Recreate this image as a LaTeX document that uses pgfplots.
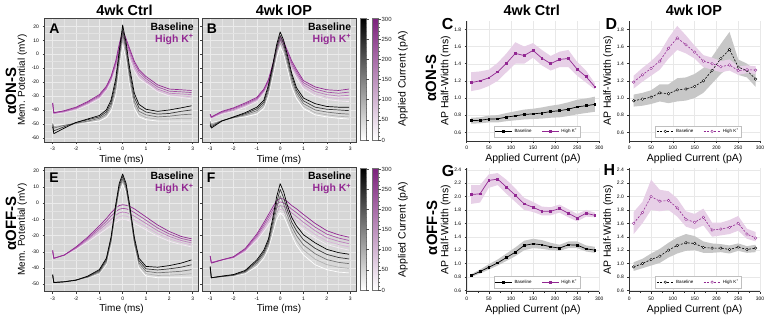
\documentclass[border=0pt]{standalone}
\usepackage{fontspec}
\setmainfont{Liberation Sans}
\usepackage{pgfplots}
\pgfplotsset{compat=1.18}
\usepackage{pgfplotstable}
\usepgfplotslibrary{fillbetween}
\definecolor{kpurple}{RGB}{146,40,146}

% ---------- traces: t, baseline b0(light)..b4(dark), high K k0..k4 ----------
\pgfplotstableread{
t b0 b1 b2 b3 b4 k0 k1 k2 k3 k4
-3 -49 -49.5 -50 -51 -52 -36 -35.5 -35.5 -35 -35
-2.95 -51 -52 -53 -55 -57 -43 -42.5 -42.5 -42 -42
-2.5 -50.5 -51 -51 -52 -53 -42 -41.6 -41.2 -40.8 -40.5
-2 -50 -50 -49.5 -49 -49 -40 -39.5 -39 -38.5 -38
-1.5 -49 -48.5 -48 -47 -46.5 -36.5 -35.8 -35.2 -34.6 -34
-1 -48 -47 -46 -45 -44 -32 -31.3 -30.6 -29.8 -29
-0.7 -45.5 -44 -43 -41.5 -40 -26 -25.4 -24.6 -23.8 -23
-0.5 -41 -39 -37 -35 -33 -20 -19 -18 -17 -16
-0.3 -30 -27 -24 -21 -18 -11 -9.5 -8 -6.5 -5
-0.15 -12 -8 -4 -1 2 -1 1 3 5 7
0 7 11 15 18 21 8 10.5 12.5 15 17
0.15 -4 -1 2 5 8 3.5 5.5 7.5 9.5 11
0.3 -22 -19 -16 -13 -10 -3.5 -1.5 0.5 2.5 4
0.5 -39 -37 -34 -31 -28 -12 -10.5 -8.5 -6.5 -5
0.7 -45 -43 -41 -38.5 -36 -17.5 -16 -14.5 -12.5 -11
1 -47 -45.5 -43.5 -41.5 -39.5 -21 -20 -19 -17.5 -16
1.5 -48 -46.5 -45 -43 -41 -27 -26 -25 -23.5 -22
2 -48 -46.5 -44.5 -42.5 -40 -30 -29 -28 -26.5 -25
2.5 -48 -46 -43.5 -41 -38.5 -31 -30 -28.5 -27 -25.5
2.95 -48 -46 -43 -40 -37 -32 -30.5 -29 -27.5 -26
}\TA
\pgfplotstableread{
t b0 b1 b2 b3 b4 k0 k1 k2 k3 k4
-3 -47 -48 -49 -50 -51 -44 -43.8 -43.5 -43.2 -43
-2.95 -49 -50 -51 -52 -53 -46 -45.8 -45.5 -45.2 -45
-2.5 -47.5 -47.6 -47.7 -47.8 -48 -43 -42.5 -42 -41.5 -41
-2 -46 -45.8 -45.5 -45.2 -45 -41 -40.4 -39.8 -39 -38.5
-1.5 -45 -44.2 -43.5 -42.7 -42 -38 -37.2 -36.5 -35.8 -35
-1 -43 -41.8 -40.5 -39.2 -38 -34 -33.3 -32.5 -31.8 -31
-0.7 -39 -37.5 -36 -34.5 -33 -28 -27.3 -26.5 -25.8 -25
-0.5 -30 -28 -26 -24 -22 -22 -21 -20 -19 -18
-0.3 -15 -12.5 -10 -8 -6 -12 -10.5 -9 -7.5 -6
-0.15 -3 0 2.5 5 7 -1 0.5 2 3.5 5
0 5.5 8 11 13.5 16 7 8.5 10 11.5 13
0.15 0 2.5 5 7.5 10 3 4.5 6 7.5 9
0.3 -10 -7.5 -5 -2.5 0 -3 -1.5 0 1.5 3
0.5 -24 -21 -18.5 -16 -14 -11 -9.5 -8 -6.5 -5
0.7 -32 -30 -28 -26 -24 -17 -15.5 -14 -12.5 -11
1 -39 -37.3 -35.5 -33.5 -31.5 -25 -23.5 -22 -20.5 -19
1.5 -43.5 -42 -40 -38 -35.5 -30 -28.4 -26.8 -25 -23.5
2 -45 -43.5 -41.5 -39.5 -37.5 -32.5 -30.8 -29 -27.2 -25.5
2.5 -46 -44.5 -42.5 -40 -38 -33.5 -32 -30 -28 -26
2.95 -46.5 -45 -43 -40.5 -38 -34 -31.8 -29.5 -27.2 -25
}\TB
\pgfplotstableread{
t b0 b1 b2 b3 b4 k0 k1 k2 k3 k4
-3 -45 -44.8 -44.6 -44.3 -44 -31 -30.5 -30 -29.5 -29
-2.95 -48.5 -48.6 -48.8 -49 -49 -34 -34 -34 -34 -34
-2.5 -48 -48.2 -48.4 -48.5 -48.5 -32 -32 -32 -32 -32
-2 -47 -47.2 -47.3 -47.5 -47.5 -28.5 -28.1 -27.8 -27.4 -27
-1.5 -46 -45.8 -45.6 -45.3 -45 -24 -23.2 -22.5 -21.8 -21
-1 -43.5 -43.1 -42.4 -41.7 -41 -19 -17.8 -16.5 -15.3 -14
-0.7 -38 -37 -36 -35 -34 -16 -14.4 -12.8 -11.2 -9.5
-0.5 -26.5 -25 -23.5 -22 -21 -14 -12 -10 -8 -6
-0.3 -7 -5.5 -4 -2.5 -1 -12 -9.8 -7.5 -5.3 -3
-0.15 6 7.5 9 10.5 12 -10.5 -8.3 -6 -3.8 -1.5
0 12 13.5 15 16.5 18 -10 -7.8 -5.5 -3.2 -1
0.15 6 7.5 9 10.5 12 -10.3 -8 -5.8 -3.5 -1.3
0.3 -7 -5.5 -4 -2.5 -1 -11 -8.8 -6.5 -4.2 -2
0.5 -27 -25.5 -24 -22.5 -21 -12.5 -10.3 -8 -5.8 -3.5
0.7 -40 -38.5 -37 -35.5 -34 -14 -12 -9.8 -7.7 -5.5
1 -45 -43.5 -42 -40.5 -39 -16.5 -14.5 -12.5 -10.5 -8.5
1.5 -46 -44.6 -43 -41.2 -39.5 -20.5 -18.8 -17 -15.3 -13.5
2 -46 -44.4 -42.5 -40.5 -38.5 -23.5 -22 -20.5 -19 -17.5
2.5 -46 -44 -42 -39.5 -37 -25.5 -24.2 -23 -21.7 -20.5
2.95 -46 -43.5 -41 -38 -35 -27 -25.8 -24.5 -23.2 -22
}\TE
\pgfplotstableread{
t b0 b1 b2 b3 b4 k0 k1 k2 k3 k4
-3 -41 -40.5 -40 -39.5 -39 -33 -32.9 -32.8 -32.6 -32.5
-2.95 -46 -46 -46 -46 -46 -36 -36.3 -36.5 -36.8 -37
-2.5 -45.5 -45.4 -45.3 -45.1 -45 -35 -35 -35 -35 -35
-2 -45 -44.8 -44.5 -44.3 -44 -34 -33.8 -33.5 -33.3 -33
-1.5 -43.5 -43 -42.5 -42 -41.5 -30 -29.5 -29 -28.5 -28
-1 -39 -38 -37 -36 -35 -23 -22 -21 -20 -19
-0.7 -34 -32.8 -31.5 -30.3 -29 -17.5 -16.2 -14.8 -13.4 -12
-0.5 -28 -26.5 -25 -23.5 -22 -13.5 -11.9 -10.3 -8.6 -7
-0.3 -18 -15.5 -13 -10.5 -8 -9.5 -7.7 -5.8 -3.9 -2
-0.15 -10 -6.5 -3 0.5 4 -7 -4.9 -2.8 -0.6 1.5
0 -6 -1 4.5 8.5 12 -6 -3.8 -1.5 0.8 3
0.15 -8 -4.3 -0.5 3.3 7 -6.5 -4.3 -2 0.2 2.5
0.3 -13 -10 -7 -4 -1 -8 -5.8 -3.5 -1.3 1
0.5 -20 -17.3 -14.5 -11.8 -9 -10.5 -8.3 -6 -3.8 -1.5
0.7 -26 -23 -20 -17 -14 -13 -10.7 -8.3 -5.9 -3.5
1 -32 -28.9 -25.8 -22.6 -19.5 -16.5 -14.1 -11.8 -9.4 -7
1.5 -38 -34.6 -31.2 -27.9 -24.5 -21.5 -19.3 -17 -14.8 -12.5
2 -41 -37.9 -34.8 -31.6 -28.5 -25.5 -23.4 -21.3 -19.1 -17
2.5 -42.5 -39.5 -36.5 -33.5 -30.5 -27.5 -25.5 -23.5 -21.5 -19.5
2.95 -43 -40.2 -37.3 -34.4 -31.5 -29 -27 -25 -23 -21
}\TF

% ---------- half-widths: x, mean, lower, upper ----------
\pgfplotstableread{
x m lo hi
10 0.736 0.700 0.770
30 0.740 0.705 0.775
50 0.755 0.715 0.795
70 0.757 0.715 0.800
90 0.778 0.730 0.825
110 0.792 0.740 0.845
130 0.808 0.750 0.865
150 0.815 0.755 0.875
170 0.825 0.760 0.890
190 0.842 0.770 0.910
210 0.852 0.775 0.925
230 0.870 0.790 0.950
250 0.897 0.810 0.980
270 0.910 0.825 0.995
290 0.926 0.840 1.015
}\Cb
\pgfplotstableread{
x m lo hi
10 1.180 1.08 1.30
30 1.200 1.10 1.31
50 1.235 1.14 1.33
70 1.305 1.20 1.41
90 1.405 1.30 1.52
110 1.520 1.40 1.65
130 1.495 1.40 1.60
150 1.555 1.47 1.64
170 1.465 1.38 1.56
190 1.400 1.32 1.49
210 1.450 1.36 1.54
230 1.460 1.36 1.56
250 1.335 1.26 1.42
270 1.250 1.18 1.32
290 1.130 1.10 1.17
}\Ck
\pgfplotstableread{
x m lo hi
10 0.968 0.90 1.04
30 0.987 0.91 1.06
50 1.010 0.93 1.09
70 1.060 0.96 1.16
90 1.050 0.94 1.16
110 1.095 0.96 1.23
130 1.105 0.97 1.24
150 1.135 1.00 1.28
170 1.200 1.06 1.35
190 1.320 1.17 1.48
210 1.460 1.28 1.63
230 1.565 1.36 1.77
250 1.360 1.27 1.45
270 1.320 1.24 1.40
290 1.220 1.13 1.32
}\Db
\pgfplotstableread{
x m lo hi
10 1.185 1.11 1.26
30 1.270 1.19 1.35
50 1.345 1.26 1.43
70 1.430 1.33 1.53
90 1.580 1.46 1.70
110 1.700 1.56 1.84
130 1.620 1.52 1.73
150 1.535 1.46 1.61
170 1.430 1.36 1.50
190 1.400 1.33 1.47
210 1.365 1.30 1.43
230 1.385 1.32 1.45
250 1.320 1.27 1.37
270 1.330 1.29 1.38
290 1.325 1.28 1.37
}\Dk
\pgfplotstableread{
x m lo hi
10 0.82 0.80 0.84
30 0.88 0.85 0.91
50 0.945 0.91 0.99
70 1.01 0.97 1.06
90 1.09 1.04 1.15
110 1.17 1.11 1.24
130 1.27 1.20 1.34
150 1.295 1.23 1.37
170 1.28 1.22 1.35
190 1.25 1.20 1.31
210 1.23 1.19 1.28
230 1.28 1.23 1.33
250 1.275 1.23 1.33
270 1.22 1.18 1.27
290 1.20 1.16 1.25
}\Gb
\pgfplotstableread{
x m lo hi
10 2.03 1.89 2.17
30 2.04 1.91 2.17
50 2.24 2.13 2.33
70 2.26 2.17 2.35
90 2.14 2.04 2.25
110 2.02 1.92 2.12
130 1.89 1.80 1.98
150 1.84 1.77 1.92
170 1.78 1.72 1.85
190 1.78 1.72 1.84
210 1.82 1.76 1.88
230 1.75 1.69 1.81
250 1.68 1.63 1.74
270 1.75 1.70 1.80
290 1.72 1.69 1.76
}\Gk
\pgfplotstableread{
x m lo hi
10 0.95 0.89 1.02
30 1.00 0.93 1.07
50 1.06 0.97 1.15
70 1.11 1.01 1.22
90 1.20 1.09 1.31
110 1.27 1.15 1.39
130 1.31 1.19 1.44
150 1.30 1.20 1.41
170 1.24 1.16 1.33
190 1.23 1.16 1.30
210 1.23 1.17 1.29
230 1.21 1.15 1.27
250 1.245 1.19 1.30
270 1.21 1.16 1.26
290 1.23 1.17 1.28
}\Hb
\pgfplotstableread{
x m lo hi
10 1.60 1.44 1.77
30 1.76 1.60 1.92
50 2.00 1.80 2.25
70 1.93 1.78 2.10
90 1.94 1.80 2.08
110 1.83 1.70 1.97
130 1.66 1.55 1.78
150 1.615 1.51 1.74
170 1.69 1.57 1.82
190 1.50 1.40 1.61
210 1.515 1.42 1.61
230 1.54 1.44 1.65
250 1.60 1.49 1.71
270 1.44 1.37 1.52
290 1.38 1.33 1.47
}\Hk

\pgfplotsset{
  tr/.style={line width=0.7pt, no markers, line join=round},
  trb0/.style={tr, color=white},
  trb1/.style={tr, color=black!30},
  trb2/.style={tr, color=black!55},
  trb3/.style={tr, color=black!78},
  trb4/.style={tr, color=black},
  trk0/.style={tr, color=kpurple!10},
  trk1/.style={tr, color=kpurple!35},
  trk2/.style={tr, color=kpurple!60},
  trk3/.style={tr, color=kpurple!82},
  trk4/.style={tr, color=kpurple},
  lax/.style={scale only axis, width=154bp, xmin=-3.35, xmax=3.25,
    xtick={-3,-2,-1,0,1,2,3}, enlargelimits=false,
    axis background/.style={fill=black!16},
    grid=both, minor x tick num=1, minor y tick num=1,
    major grid style={draw=black!8, line width=0.35pt},
    minor grid style={draw=black!11, line width=0.25pt},
    axis line style={black!75, line width=0.6pt},
    tick align=outside, tick pos=left, major tick length=2bp, minor tick length=0bp,
    tick style={black!75, line width=0.5pt},
    ticklabel style={font=\fontsize{5}{6}\selectfont},
    label style={font=\fontsize{10}{12}\selectfont},
    xlabel={Time (ms)},
    xlabel style={yshift=3bp},
    ylabel style={yshift=-2bp},
    /pgf/number format/assume math mode=true, clip=true},
  rax/.style={scale only axis, xmin=0, xmax=300, xtick={0,50,...,300},
    minor x tick num=1, enlargelimits=false,
    axis lines=left, axis line style={-, black!80, line width=0.5pt},
    grid=major, major grid style={draw=black!9, line width=0.35pt},
    tick align=outside, major tick length=2bp, minor tick length=1bp,
    tick style={black!80, line width=0.45pt},
    ticklabel style={font=\fontsize{5}{6}\selectfont},
    yticklabel style={/pgf/number format/.cd, fixed, fixed zerofill, precision=1},
    label style={font=\fontsize{10.5}{12}\selectfont},
    xlabel={Applied Current (pA)}, ylabel={AP Half-Width (ms)},
    xlabel style={yshift=3bp}, ylabel style={yshift=-3bp},
    /pgf/number format/assume math mode=true,
    legend style={at={(0.53,0.03)}, anchor=south, legend columns=2,
      font=\fontsize{4.5}{5}\selectfont, draw=black!25, fill=white,
      inner sep=1pt, /tikz/every even column/.append style={column sep=8bp}},
    legend cell align=left},
  bsolid/.style={black, line width=0.7pt, mark=square*, mark size=0.9bp},
  ksolid/.style={kpurple, line width=0.7pt, mark=square*, mark size=0.9bp},
  bdash/.style={black, line width=0.6pt, dash pattern=on 2bp off 1.5bp, mark=*, mark size=1.3bp, mark options={solid, fill=white, line width=0.4pt}},
  kdash/.style={kpurple, line width=0.6pt, dash pattern=on 2bp off 1.5bp, mark=*, mark size=1.3bp, mark options={solid, fill=white, line width=0.4pt}},
}

\newcommand{\traces}[1]{%
  \addplot[trk0] table[x=t,y=k0]{#1};
  \addplot[trk1] table[x=t,y=k1]{#1};
  \addplot[trk2] table[x=t,y=k2]{#1};
  \addplot[trk3] table[x=t,y=k3]{#1};
  \addplot[trk4] table[x=t,y=k4]{#1};
  \addplot[trb0] table[x=t,y=b0]{#1};
  \addplot[trb1] table[x=t,y=b1]{#1};
  \addplot[trb2] table[x=t,y=b2]{#1};
  \addplot[trb3] table[x=t,y=b3]{#1};
  \addplot[trb4] table[x=t,y=b4]{#1};
  \node[anchor=north east, align=right, inner sep=0pt, font=\bfseries\fontsize{10.5}{12.6}\selectfont]
    at (rel axis cs:0.97,0.965) {Baseline\\\textcolor{kpurple}{High K\textsuperscript{+}}};
}
\newcommand{\letter}[1]{\node[anchor=north west, inner sep=0pt, font=\bfseries\fontsize{14}{14}\selectfont] at (rel axis cs:0.03,0.955) {#1};}

\newcommand{\hw}[5]{%
  \addplot[name path=#5bl, draw=none, forget plot] table[x=x,y=lo]{#1};
  \addplot[name path=#5bh, draw=none, forget plot] table[x=x,y=hi]{#1};
  \addplot[fill=black!22, draw=none, forget plot] fill between[of=#5bh and #5bl];
  \addplot[name path=#5kl, draw=none, forget plot] table[x=x,y=lo]{#2};
  \addplot[name path=#5kh, draw=none, forget plot] table[x=x,y=hi]{#2};
  \addplot[fill=kpurple!22, draw=none, forget plot] fill between[of=#5kh and #5kl];
  \addplot[#3] table[x=x,y=m]{#1}; \addlegendentry{Baseline}
  \addplot[#4] table[x=x,y=m]{#2}; \addlegendentry{High K\textsuperscript{+}}
}

\begin{document}
\begin{tikzpicture}[x=1bp,y=1bp]

% ----- panel A -----
\begin{axis}[lax, at={(44.5bp,172bp)}, anchor=south west, height=124bp,
  ymin=-63, ymax=26, ytick={-60,-50,...,20}, ylabel={Mem. Potential (mV)}]
\traces{\TA}
\letter{A}
\end{axis}
% ----- panel B -----
\begin{axis}[lax, at={(202bp,172bp)}, anchor=south west, height=124bp,
  ymin=-63, ymax=26, ytick={-60,-50,...,20}, yticklabels={}]
\traces{\TB}
\letter{B}
\end{axis}
% ----- panel E -----
\begin{axis}[lax, at={(44.5bp,22.3bp)}, anchor=south west, height=124.4bp,
  ymin=-54.6, ymax=22.1, ytick={-50,-40,...,20}, ylabel={Mem. Potential (mV)}]
\traces{\TE}
\letter{E}
\end{axis}
% ----- panel F -----
\begin{axis}[lax, at={(202bp,22.3bp)}, anchor=south west, height=124.4bp,
  ymin=-54.6, ymax=22.1, ytick={-50,-40,...,20}, yticklabels={}]
\traces{\TF}
\letter{F}
\end{axis}

% ----- panel C -----
\begin{axis}[rax, at={(466.7bp,173.1bp)}, anchor=south west, width=132.6bp, height=120.1bp,
  ymin=0.5, ymax=1.9, ytick={0.6,0.8,1.0,1.2,1.4,1.6,1.8}]
\hw{\Cb}{\Ck}{bsolid}{ksolid}{c}
\end{axis}
% ----- panel D -----
\begin{axis}[rax, at={(629.3bp,173.1bp)}, anchor=south west, width=130.7bp, height=120.1bp,
  ymin=0.5, ymax=1.9, ytick={0.6,0.8,1.0,1.2,1.4,1.6,1.8}]
\hw{\Db}{\Dk}{bdash}{kdash}{d}
\end{axis}
% ----- panel G -----
\begin{axis}[rax, at={(466.7bp,22.3bp)}, anchor=south west, width=132.6bp, height=124bp,
  ymin=0.58, ymax=2.43, ytick={0.6,0.8,1.0,1.2,1.4,1.6,1.8,2.0,2.2,2.4}]
\hw{\Gb}{\Gk}{bsolid}{ksolid}{g}
\end{axis}
% ----- panel H -----
\begin{axis}[rax, at={(629.3bp,22.3bp)}, anchor=south west, width=130.7bp, height=124bp,
  ymin=0.58, ymax=2.43, ytick={0.6,0.8,1.0,1.2,1.4,1.6,1.8,2.0,2.2,2.4}]
\hw{\Hb}{\Hk}{bdash}{kdash}{h}
\end{axis}

% ----- colour bars -----
\foreach \yb in {174,24} {
  \shade[bottom color=white, top color=black] (360,\yb) rectangle (366,\yb+121.5);
  \shade[bottom color=white, top color=kpurple!85!black] (372.3,\yb) rectangle (378.3,\yb+121.5);
  \draw[black!55, line width=0.4pt] (360,\yb) rectangle (366,\yb+121.5);
  \draw[black!55, line width=0.4pt] (372.3,\yb) rectangle (378.3,\yb+121.5);
  \foreach \v in {0,10,...,300} {
    \draw[black!60, line width=0.3pt] (366,{\yb+\v*0.403333}) -- ++(1.3,0);
    \draw[black!60, line width=0.3pt] (378.3,{\yb+\v*0.403333}) -- ++(1.3,0);
  }
  \foreach \v in {0,50,...,300} {
    \draw[black!70, line width=0.4pt] (366,{\yb+\v*0.403333}) -- ++(2.5,0);
    \draw[black!70, line width=0.4pt] (378.3,{\yb+\v*0.403333}) -- ++(2.5,0)
      node[right, inner sep=0.6pt, font=\fontsize{6}{7}\selectfont, text=black!85] {\v};
  }
}
\node[rotate=90, font=\fontsize{10.5}{12}\selectfont] at (403,235) {Applied Current (pA)};
\node[rotate=90, font=\fontsize{10.5}{12}\selectfont] at (403,84.5) {Applied Current (pA)};

% ----- titles and row labels -----
\node[anchor=base, font=\bfseries\fontsize{14.5}{15}\selectfont] at (124.5,299) {4wk Ctrl};
\node[anchor=base, font=\bfseries\fontsize{14.5}{15}\selectfont] at (284,299) {4wk IOP};
\node[anchor=base, font=\bfseries\fontsize{14.5}{15}\selectfont] at (531.7,299) {4wk Ctrl};
\node[anchor=base, font=\bfseries\fontsize{14.5}{15}\selectfont] at (694,299) {4wk IOP};
\node[rotate=90, font=\bfseries\fontsize{15}{16}\selectfont] at (11,223) {αON-S};
\node[rotate=90, font=\bfseries\fontsize{15}{16}\selectfont] at (11,90.5) {αOFF-S};
\node[rotate=90, font=\bfseries\fontsize{15}{16}\selectfont] at (431,236) {αON-S};
\node[rotate=90, font=\bfseries\fontsize{15}{16}\selectfont] at (432,86) {αOFF-S};
\node[anchor=north west, inner sep=0pt, font=\bfseries\fontsize{16}{16}\selectfont] at (441.7,295.7) {C};
\node[anchor=north west, inner sep=0pt, font=\bfseries\fontsize{16}{16}\selectfont] at (605.5,295.7) {D};
\node[anchor=north west, inner sep=0pt, font=\bfseries\fontsize{16}{16}\selectfont] at (441.7,149) {G};
\node[anchor=north west, inner sep=0pt, font=\bfseries\fontsize{16}{16}\selectfont] at (603.5,150) {H};

\pgfresetboundingbox
\path[use as bounding box] (0,0) rectangle (767,314);
\end{tikzpicture}
\end{document}
